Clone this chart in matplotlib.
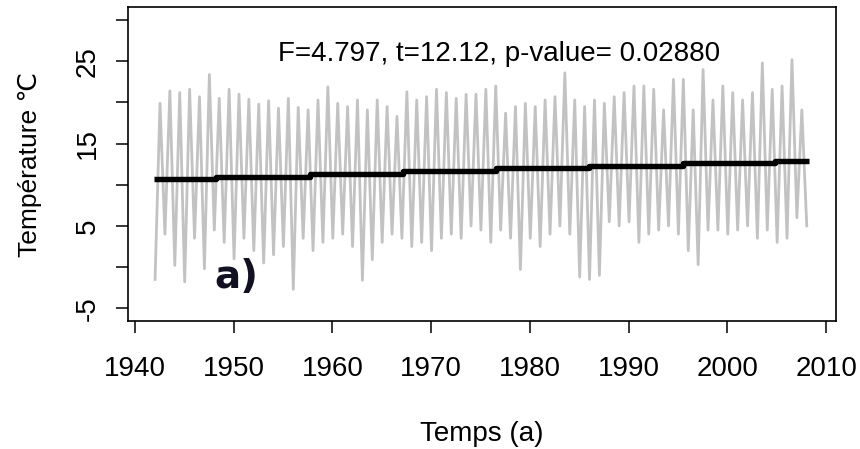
import matplotlib
matplotlib.use("Agg")
import matplotlib.pyplot as plt
import numpy as np

plt.rcParams['font.family'] = ['Liberation Sans', 'DejaVu Sans']

# yearly summer peaks (1942-2007) and winter troughs (1942-2008)
peak_years = list(range(1942, 2008))
peaks = [19.9, 21.4, 21.2, 21.6, 20.7, 23.4, 20.5, 21.6, 21.0, 20.4,
         19.8, 20.2, 19.3, 20.5, 19.4, 19.1, 20.3, 21.9, 19.9, 19.5,
         20.3, 19.1, 20.3, 19.5, 18.3, 21.3, 20.3, 20.7, 21.6, 21.2,
         20.5, 21.0, 21.0, 21.6, 22.0, 18.7, 19.5, 19.9, 19.5, 20.3,
         20.7, 23.6, 20.3, 19.5, 20.3, 19.9, 20.7, 21.2, 22.0, 22.0,
         21.6, 19.1, 22.8, 22.8, 19.1, 24.0, 20.3, 22.0, 21.2, 20.3,
         21.2, 24.8, 21.6, 22.0, 25.2, 19.1]
trough_years = list(range(1942, 2009))
troughs = [-1.5, 4.0, 0.2, -1.8, 3.5, -0.2, 4.5, 3.0, 1.0, 3.5,
           2.0, 0.5, 1.5, 2.5, -2.7, 3.5, 2.0, 3.0, 3.5, 4.0,
           2.5, -1.6, 0.9, 3.0, 4.0, 3.5, 2.5, 3.0, 2.0, 3.5,
           4.0, 3.5, 5.0, 4.5, 3.0, 4.5, 3.5, -0.3, 3.5, 2.5,
           4.0, 5.0, 4.0, -1.2, -1.5, -1.0, 5.5, 5.0, 5.5, 3.0,
           4.0, 4.5, 5.0, 4.0, 2.0, 0.3, 4.5, 4.5, 4.0, 4.5,
           5.0, 3.5, 4.5, 3.0, 3.5, 6.0, 5.0]

# step trend
step_starts = [1941.9, 1948.2, 1957.7, 1967.1, 1976.6, 1986.0, 1995.5, 2004.8, 2008.3]
step_levels = [10.7, 11.0, 11.35, 11.65, 12.0, 12.3, 12.6, 12.95, 12.95]

# zigzag series: trough in january, peak in july
t, v = [], []
for i, y in enumerate(trough_years):
    t.append(y + 0.04)
    v.append(troughs[i])
    if i < len(peaks):
        t.append(peak_years[i] + 0.54)
        v.append(peaks[i])

fig = plt.figure(figsize=(8.6, 4.49), dpi=100)
ax = fig.add_axes([128/860, 1-321/449, 708/860, 314/449])
ax.plot(t, v, color='#c2c2c2', lw=2.0)
ax.plot(step_starts, step_levels, color='black', lw=3.9, drawstyle='steps-post',
        solid_capstyle='butt')

ax.set_xlim(1939.3, 2011.0)
ax.set_ylim(-6.55, 31.6)
ax.set_xticks(range(1940, 2011, 10))
yt = list(range(-5, 31, 5))
ax.set_yticks(yt)
ax.set_yticklabels([str(y) if y in (-5, 5, 15, 25) else '' for y in yt])
ax.tick_params(axis='both', direction='out', length=8.5, width=1.1, labelsize=20)
ax.tick_params(axis='x', pad=17)
ax.tick_params(axis='y', pad=11, labelrotation=90)
for lab in ax.get_yticklabels():
    lab.set_va('center')
for s in ax.spines.values():
    s.set_linewidth(1.2)

ax.set_xlabel('Temps (a)', fontsize=20, labelpad=28)
ax.set_ylabel('Température ℃', fontsize=19, labelpad=24)

ax.text(1976.9, 25.9, 'F=4.797, t=12.12, p-value= 0.02880', fontsize=20,
        ha='center', va='center')
ax.text(1950.3, -2.6, 'a)', fontsize=28, fontweight='bold', family='DejaVu Sans',
        ha='center', va='baseline', color='#111122')

fig.savefig('out.png', dpi=100)
